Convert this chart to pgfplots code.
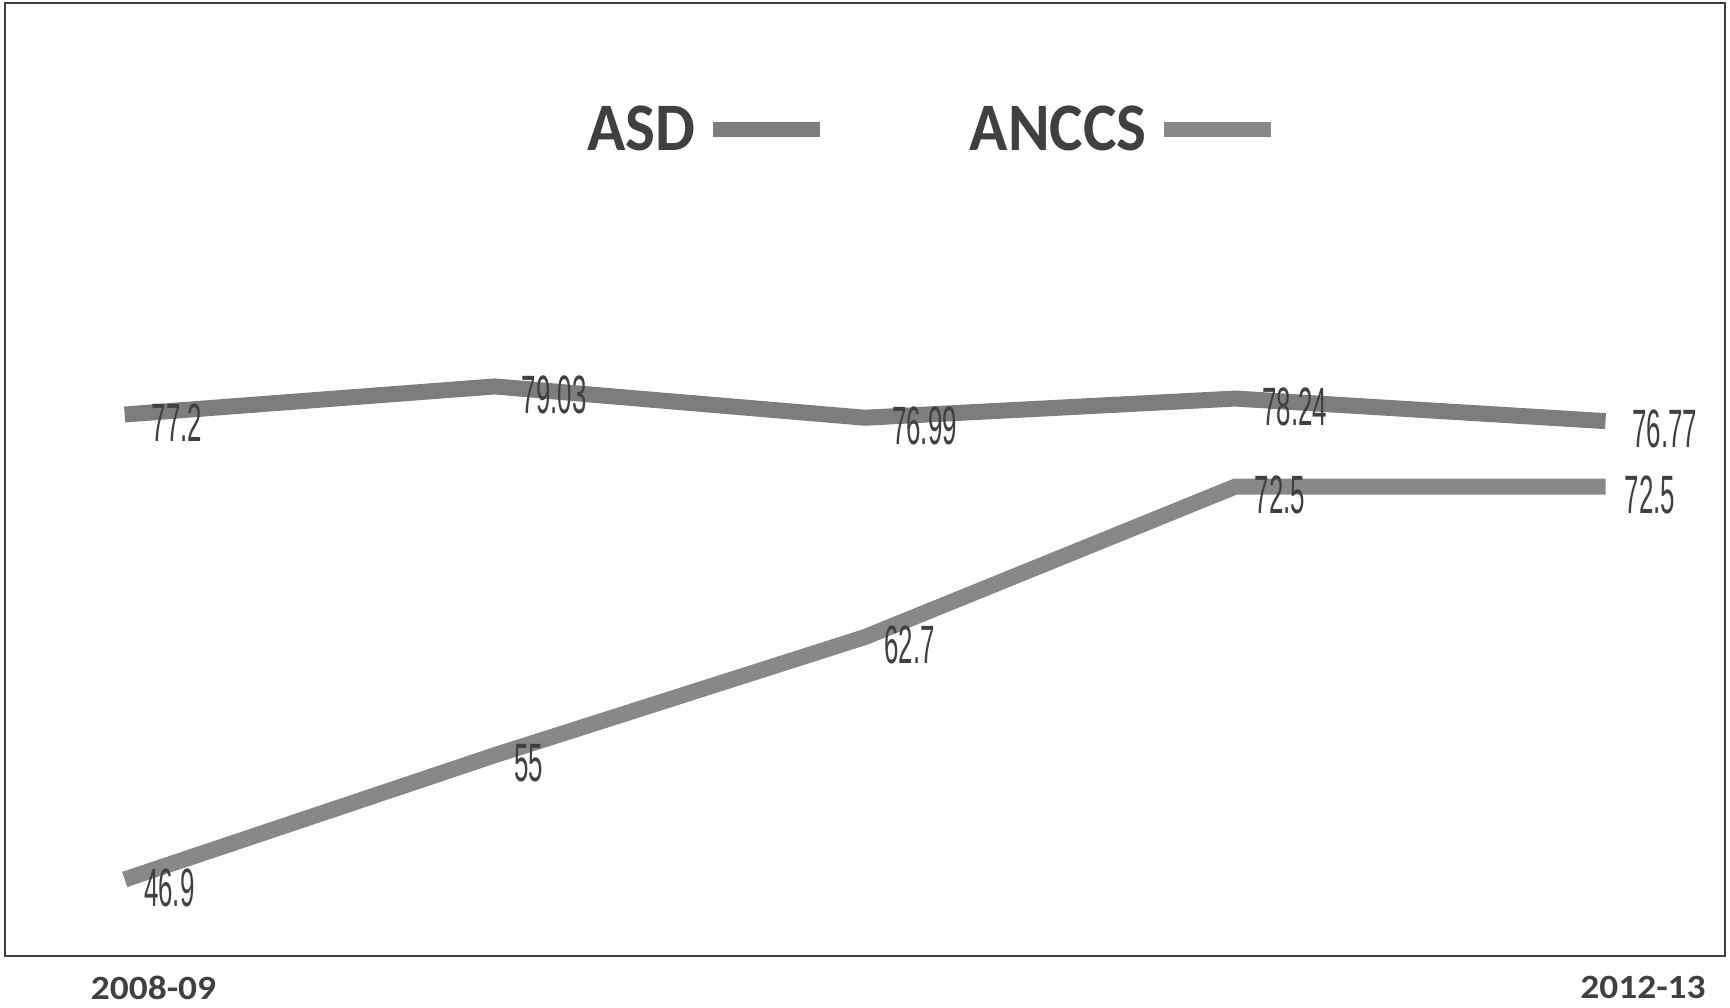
\documentclass[border=0pt]{standalone}
\usepackage{pgfplots}
\pgfplotsset{compat=1.18}
\usepackage{fontspec}
\setmainfont{Carlito}
\newfontfamily\lblfont[FakeStretch=0.48]{Liberation Sans}
\newfontfamily\legfont[FakeStretch=0.93]{Carlito}
\newfontfamily\tickfont[FakeStretch=1.1]{Carlito}
\definecolor{asdgray}{RGB}{125,125,125}
\definecolor{anccsgray}{RGB}{136,136,136}
\definecolor{txtgray}{RGB}{64,64,64}
\begin{document}
\begin{tikzpicture}
\path[use as bounding box] (0,0) rectangle (865pt,503.5pt);
\begin{axis}[
  at={(2.5pt,25.5pt)}, anchor=south west,
  scale only axis, width=860pt, height=476.5pt,
  xmin=-0.3233, xmax=4.3228, ymin=41.91, ymax=104.02,
  xtick=\empty, ytick=\empty,
  axis line style={draw=black!75, line width=1.2pt},
  clip=false,
  point meta=explicit symbolic,
  every node near coord/.append style={anchor=west, xshift=9.5pt, yshift=-4pt,
    font=\lblfont\fontsize{27}{27}\selectfont, text=txtgray, inner sep=0pt},
  legend plot pos=right,
  legend image code/.code={\draw[#1, line width=7.5pt] (0pt,0pt) -- (53.5pt,0pt);},
  legend style={draw=none, fill=none, at={(0.335,0.867)}, anchor=west,
    legend columns=2, font=\legfont\bfseries\fontsize{34}{34}\selectfont,
    text=txtgray, nodes={inner sep=0pt},
    /tikz/every odd column/.append style={column sep=5pt},
    /tikz/every even column/.append style={column sep=71pt}},
]
% ANCCS value labels sit underneath the ANCCS line
\addplot[draw=none, nodes near coords, forget plot] table[meta=label] {
x y label
0 46.9 46.9
1 55 55
2 62.7 62.7
3 72.5 72.5
4 72.5 72.5
};
\addplot[draw=asdgray, line width=8pt, line join=round, nodes near coords] table[meta=label] {
x y label
0 77.2 77.2
1 79.03 79.03
2 76.99 76.99
3 78.24 78.24
4 76.77 76.77
};
\addlegendentry{ASD}
\addplot[draw=anccsgray, line width=8pt, line join=round] table {
x y
0 46.9
1 55
2 62.7
3 72.5
4 72.5
};
\addlegendentry{ANCCS}
\end{axis}
\node[inner sep=0pt, font=\tickfont\bfseries\fontsize{17}{17}\selectfont, text=txtgray] at (76.75pt,9.75pt) {2008-09};
\node[inner sep=0pt, font=\tickfont\bfseries\fontsize{17}{17}\selectfont, text=txtgray] at (821.5pt,9.75pt) {2012-13};
\end{tikzpicture}
\end{document}
